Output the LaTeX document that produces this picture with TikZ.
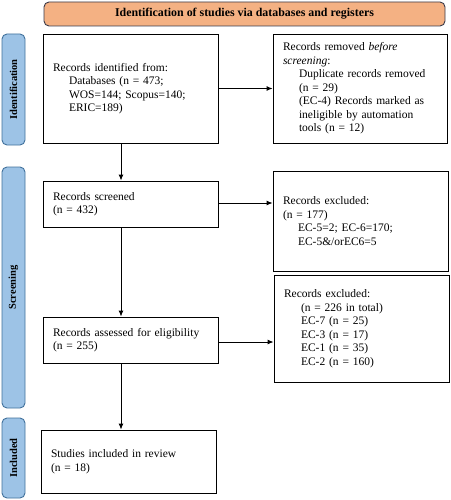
\documentclass[tikz,border=0pt]{standalone}
\usepackage{fontspec}
\setmainfont{Liberation Serif}
\usepackage{tikz}
\usetikzlibrary{arrows.meta}

\definecolor{hdrfill}{HTML}{F4B183}
\definecolor{hdrline}{HTML}{3A3A4A}
\definecolor{sidefill}{HTML}{9DC3E6}
\definecolor{sideline}{HTML}{41719C}

\tikzset{
  box/.style={draw, line width=0.9pt, align=left, inner xsep=10pt, inner ysep=0pt,
    font=\fontsize{11.5}{13.5}\selectfont},
  sidebar/.style={draw=sideline, fill=sidefill, line width=0.9pt, rounded corners=5pt,
    minimum height=23pt, inner sep=0pt, font=\fontsize{10.5}{12}\selectfont\bfseries},
  header/.style={draw=hdrline, fill=hdrfill, line width=0.9pt, rounded corners=5pt,
    font=\fontsize{11.9}{14}\selectfont\bfseries},
  flow/.style={-{Latex[length=6pt,width=5pt]}, line width=0.9pt}
}

\begin{document}
\begin{tikzpicture}[x=1pt, y=-1pt]

\useasboundingbox (0,0) rectangle (450,500);

% title bar and phases
\node[header, minimum width=401pt, minimum height=24pt] (hdr) at (244.5,14) {Identification of studies via databases and registers};

\node[sidebar, minimum width=111pt, rotate=90] (sideid) at (13.5,89.5) {Identification};
\node[sidebar, minimum width=241pt, rotate=90] (sidescr) at (13.5,287.5) {Screening};
\node[sidebar, minimum width=80pt, rotate=90] (sideinc) at (13.5,458) {Included};

% left column
\node[box, text width=155pt, minimum height=109pt] (ident) at (130.5,88.5) {Records identified from:\\
\hspace*{16pt}Databases (n = 473;\\
\hspace*{16pt}WOS=144; Scopus=140;\\
\hspace*{16pt}ERIC=189)};

\node[box, text width=155pt, minimum height=46pt] (screened) at (130.5,204) {Records screened\\
(n = 432)};

\node[box, text width=155pt, minimum height=46pt] (assessed) at (130.5,340) {Records assessed for eligibility\\
(n = 255)};

\node[box, text width=155pt, minimum height=63pt] (included) at (128.5,461.5) {Studies included in review\\
(n = 18)};

% right column
\node[box, text width=154pt, minimum height=109pt] (removed) at (360,88.5) {Records removed \textit{before}\\
\textit{screening}:\\
\hspace*{16pt}Duplicate records removed\\
\hspace*{16pt}(n = 29)\\
\hspace*{16pt}(EC-4) Records marked as\\
\hspace*{16pt}ineligible by automation\\
\hspace*{16pt}tools (n = 12)};

\node[box, text width=155pt, minimum height=100pt] (exclone) at (360.5,221) {Records excluded:\\
(n = 177)\\
\hspace*{15pt}EC-5=2; EC-6=170;\\
\hspace*{15pt}EC-5\&/orEC6=5};

\node[box, text width=155pt, minimum height=107pt] (excltwo) at (361.5,328.5) {Records excluded:\\
\hspace*{17pt}(n = 226 in total)\\
\hspace*{17pt}EC-7 (n = 25)\\
\hspace*{17pt}EC-3 (n = 17)\\
\hspace*{17pt}EC-1 (n = 35)\\
\hspace*{17pt}EC-2 (n = 160)};

% arrows
\coordinate (spine) at (121,0);

\draw[flow] (ident.south -| spine) -- (screened.north -| spine);
\draw[flow] (screened.south -| spine) -- (assessed.north -| spine);
\draw[flow] (assessed.south -| spine) -- (included.north -| spine);

\draw[flow] (ident.east) -- (ident.east -| removed.west);
\draw[flow] ([yshift=1pt]screened.east) -- ([yshift=1pt]screened.east -| exclone.west);
\draw[flow] ([yshift=-2pt]assessed.east) -- ([yshift=-2pt]assessed.east -| excltwo.west);

\end{tikzpicture}
\end{document}
